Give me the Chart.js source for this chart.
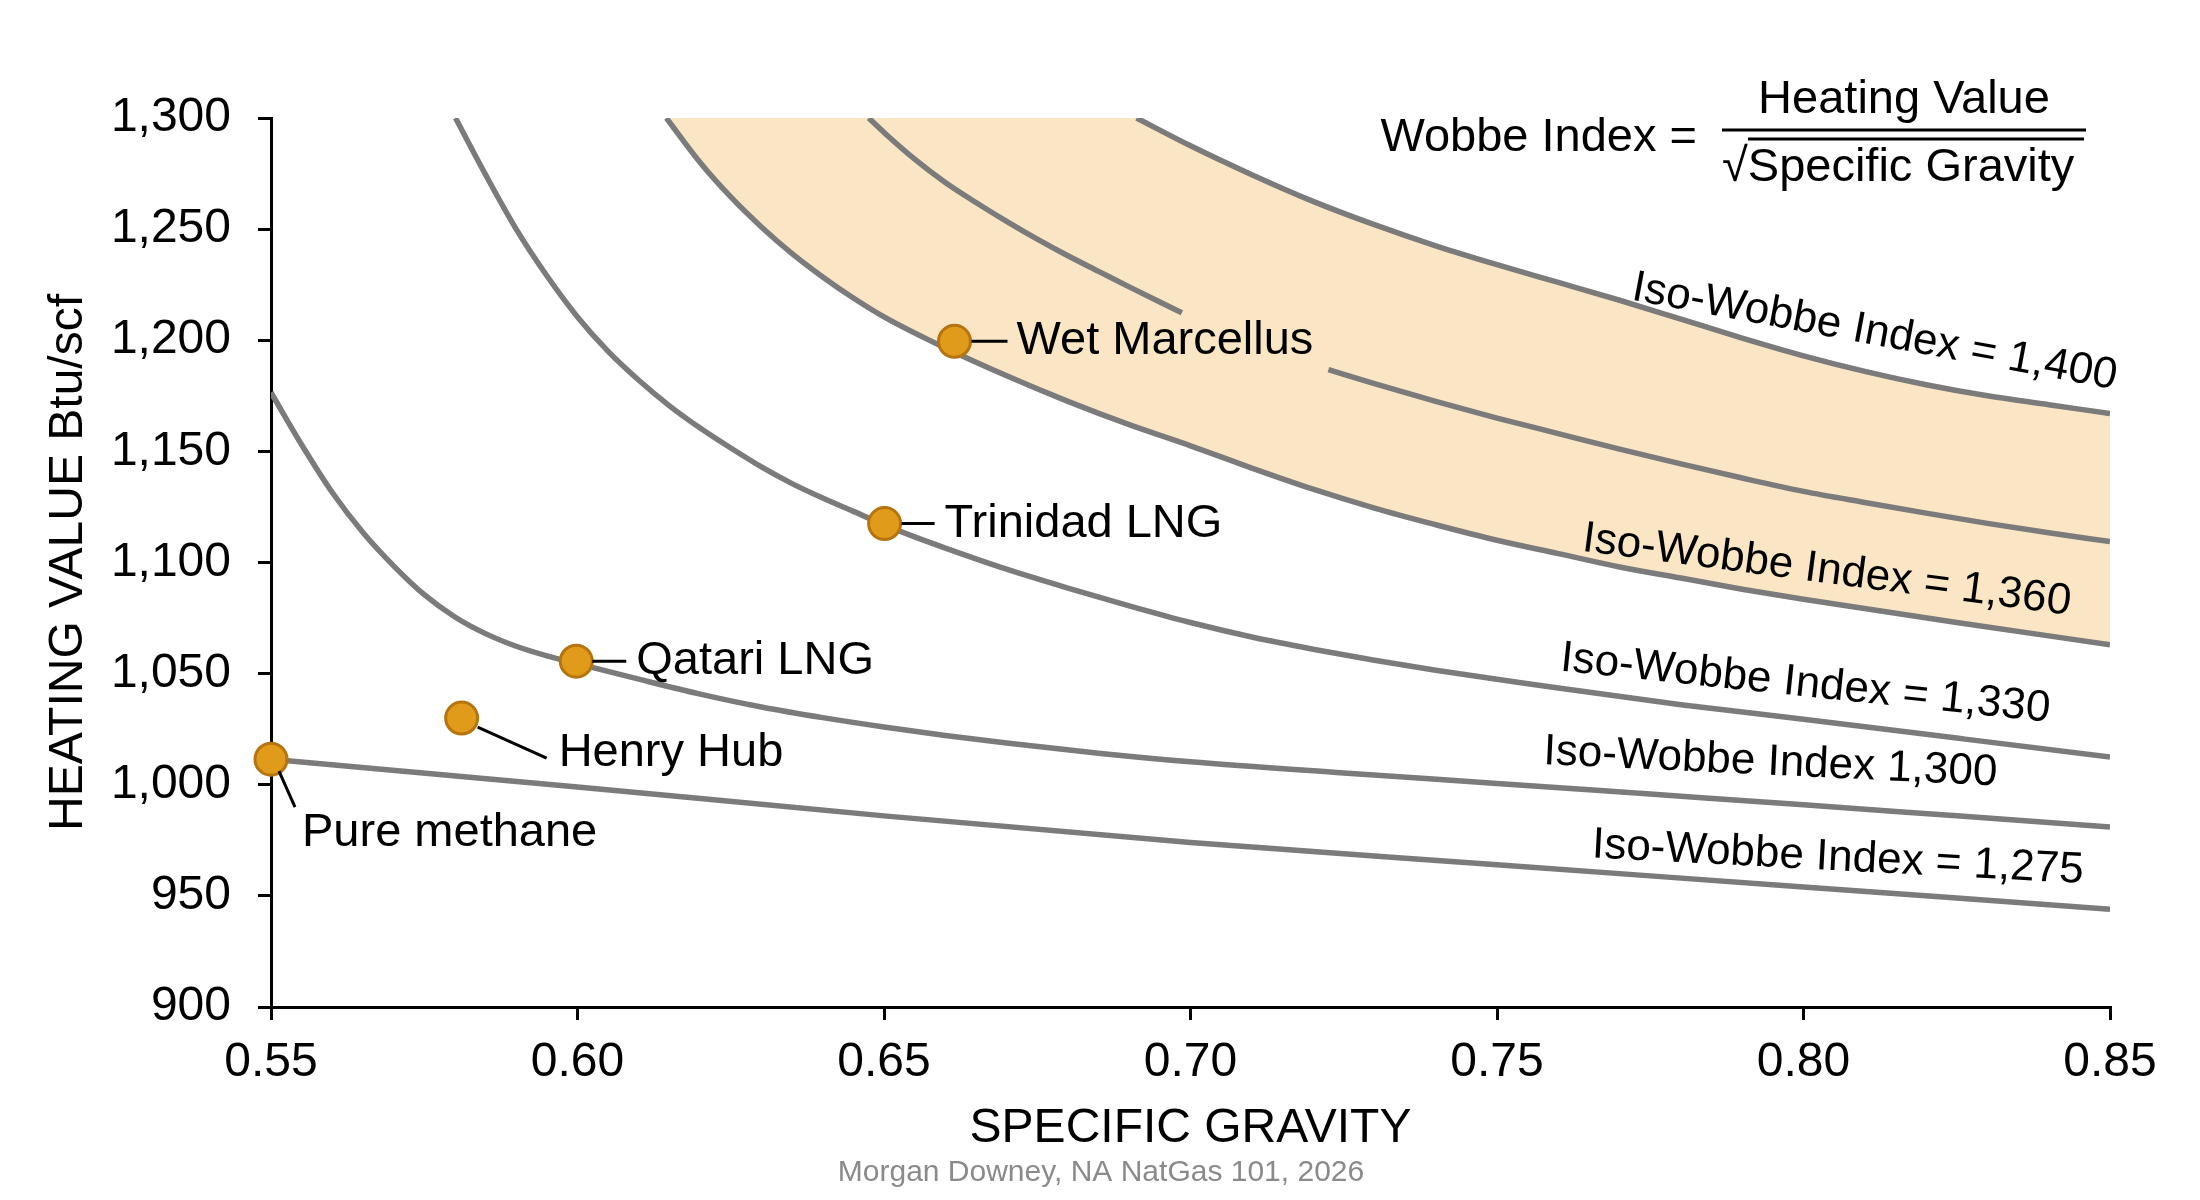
<!DOCTYPE html>
<html>
<head>
<meta charset="utf-8">
<title>Iso-Wobbe Index</title>
<script src="https://cdn.jsdelivr.net/npm/chart.js@4.4.1/dist/chart.umd.min.js"></script>
<style>
    html, body { margin: 0; padding: 0; background: #ffffff; }
    #wrap { width: 2200px; height: 1200px; }
</style>
</head>
<body>
<div id="wrap"><canvas id="chart-wobbe" width="2200" height="1200"></canvas></div>
<script>
// Datos
const sgTicks = [0.55, 0.60, 0.65, 0.70, 0.75, 0.80, 0.85];
const hvTicks = [900, 950, 1000, 1050, 1100, 1150, 1200, 1250, 1300];

const gasNames = ['Pure methane', 'Henry Hub', 'Qatari LNG', 'Trinidad LNG', 'Wet Marcellus'];
const gasSG = [0.55, 0.5811, 0.5998, 0.6501, 0.6615];
const gasHV = [1011.5, 1030, 1055.6, 1117.5, 1199.5];

const sg1275 = [0.55, 0.60, 0.65, 0.70, 0.75, 0.80, 0.85];
const hv1275 = [1011.5, 999, 986, 974, 964, 954, 944];

const sg1300 = [0.55, 0.555, 0.56, 0.565, 0.57, 0.575, 0.58, 0.585, 0.59, 0.595, 0.60, 0.61, 0.62, 0.63, 0.64, 0.65, 0.66, 0.67, 0.685, 0.70, 0.725, 0.75, 0.775, 0.80, 0.825, 0.85];
const hv1300 = [1176.5, 1153, 1131.5, 1113.5, 1098.5, 1085.5, 1075.5, 1068, 1062.3, 1058, 1054.5, 1047.5, 1040.8, 1035, 1030.2, 1026, 1022.2, 1018.8, 1014.2, 1010.3, 1005.3, 1000.6, 995.8, 991, 986, 981];

const sg1330 = [0.5801, 0.585, 0.59, 0.595, 0.60, 0.605, 0.61, 0.615, 0.62, 0.625, 0.63, 0.635, 0.64, 0.645, 0.65, 0.655, 0.66, 0.67, 0.68, 0.69, 0.70, 0.71, 0.72, 0.73, 0.74, 0.75, 0.76, 0.78, 0.80, 0.825, 0.85];
const hv1330 = [1300, 1274.5, 1250, 1229, 1210.5, 1195, 1182, 1170.5, 1160.5, 1151.5, 1143, 1135.5, 1129, 1123, 1117, 1111.5, 1106.5, 1097, 1088.5, 1080.5, 1073, 1066.5, 1061, 1056, 1051.5, 1047.5, 1043.5, 1036, 1029.5, 1021, 1012.5];

const sg1360 = [0.6145, 0.62, 0.625, 0.63, 0.635, 0.64, 0.645, 0.65, 0.66, 0.67, 0.68, 0.69, 0.70, 0.71, 0.72, 0.73, 0.74, 0.75, 0.76, 0.77, 0.78, 0.79, 0.80, 0.825, 0.85];
const hv1360 = [1300, 1280, 1264.5, 1251, 1239, 1228.5, 1219, 1210.5, 1196.5, 1184, 1172.5, 1162, 1152.5, 1142.5, 1133, 1124.5, 1117, 1110, 1104, 1098, 1093, 1088, 1083.5, 1073, 1063];

// linea intermedia, cortada donde va la etiqueta
const sgMid = [0.6475, 0.65, 0.655, 0.66, 0.665, 0.67, 0.675, 0.68, 0.685, 0.69, 0.695, 0.6986, 0.71, 0.7225, 0.73, 0.74, 0.75, 0.76, 0.77, 0.78, 0.79, 0.80, 0.81, 0.82, 0.83, 0.84, 0.85];
const hvMid = [1300, 1293.5, 1281.5, 1271, 1262, 1253.5, 1245.5, 1238, 1231, 1224, 1217.2, 1212.4, null, 1186.8, 1180.5, 1172.5, 1165, 1158, 1151, 1144.4, 1138, 1132, 1127, 1122.2, 1117.6, 1113.4, 1109.4];

const sg1400 = [0.6912, 0.70, 0.71, 0.72, 0.73, 0.74, 0.75, 0.76, 0.77, 0.78, 0.79, 0.80, 0.81, 0.82, 0.83, 0.84, 0.85];
const hv1400 = [1300, 1287.5, 1274.5, 1262.5, 1252, 1242.5, 1234, 1226, 1218, 1209.5, 1201, 1193, 1186, 1180, 1175, 1171, 1167];

const curveLabels = ['Iso-Wobbe Index = 1,400', 'Iso-Wobbe Index = 1,360', 'Iso-Wobbe Index = 1,330', 'Iso-Wobbe Index 1,300', 'Iso-Wobbe Index = 1,275'];

const FONT = "'Liberation Sans', Arial, sans-serif";
const GREY = '#7b7b7b';
const BAND = '#fae6c4';

const pts = (xs, ys) => xs.map((x, i) => ({ x: x, y: ys[i] }));

function curve(xs, ys, fill, bg) {
    return {
        data: pts(xs, ys),
        showLine: true,
        borderColor: GREY,
        borderWidth: 5.5,
        backgroundColor: bg || 'rgba(0,0,0,0)',
        pointRadius: 0,
        pointHoverRadius: 0,
        cubicInterpolationMode: 'monotone',
        spanGaps: false,
        fill: fill || false
    };
}

// Etiquetas, formula y fuente
const annotations = {
    id: 'annotations',
    afterDatasetsDraw(chart) {
        const ctx = chart.ctx;
        const xs = chart.scales.x, ys = chart.scales.y;
        ctx.save();
        ctx.fillStyle = '#000';
        ctx.strokeStyle = '#000';
        ctx.textBaseline = 'middle';

        // etiquetas de los gases
        const offs = [
            { lx1: 8, ly1: 12, lx2: 24, ly2: 48, tx: 31, ty: 74 },
            { lx1: 16, ly1: 9, lx2: 85, ly2: 40, tx: 97, ty: 35 },
            { lx1: 16, ly1: 0, lx2: 50, ly2: 0, tx: 60, ty: 0 },
            { lx1: 17, ly1: 0, lx2: 50, ly2: 0, tx: 60, ty: 0 },
            { lx1: 17, ly1: 0, lx2: 53, ly2: 0, tx: 62, ty: 0 }
        ];
        ctx.font = '47px ' + FONT;
        ctx.textAlign = 'left';
        ctx.lineWidth = 3;
        gasNames.forEach((name, i) => {
            const px = xs.getPixelForValue(gasSG[i]);
            const py = ys.getPixelForValue(gasHV[i]);
            const o = offs[i];
            ctx.beginPath();
            ctx.moveTo(px + o.lx1, py + o.ly1);
            ctx.lineTo(px + o.lx2, py + o.ly2);
            ctx.stroke();
            ctx.fillText(name, px + o.tx, py + o.ty);
        });

        // etiquetas de las curvas
        const pos = [
            { x: 0.8116, y: 1203.5, a: 10.5 },
            { x: 0.8038, y: 1096.3, a: 7.5 },
            { x: 0.8003, y: 1045.3, a: 6 },
            { x: 0.7946, y: 1010, a: 2.7 },
            { x: 0.8056, y: 967, a: 3 }
        ];
        ctx.font = '44px ' + FONT;
        ctx.textAlign = 'center';
        curveLabels.forEach((t, i) => {
            const p = pos[i];
            ctx.save();
            ctx.translate(xs.getPixelForValue(p.x), ys.getPixelForValue(p.y));
            ctx.rotate(p.a * Math.PI / 180);
            ctx.fillText(t, 0, 0);
            ctx.restore();
        });

        // formula
        ctx.font = '47px ' + FONT;
        ctx.textAlign = 'right';
        ctx.fillText('Wobbe Index =', 1697, 138);
        ctx.textAlign = 'center';
        ctx.fillText('Heating Value', 1904, 100);
        ctx.textAlign = 'left';
        ctx.fillText('\u221ASpecific Gravity', 1722, 168);
        ctx.lineWidth = 3;
        ctx.beginPath();
        ctx.moveTo(1722, 130); ctx.lineTo(2086, 130);
        ctx.moveTo(1748, 139); ctx.lineTo(2084, 139);
        ctx.stroke();

        // fuente
        ctx.fillStyle = '#8a8a8a';
        ctx.font = '30px ' + FONT;
        ctx.textAlign = 'center';
        ctx.fillText('Morgan Downey, NA NatGas 101, 2026', 1101, 1173);
        ctx.restore();
    }
};

const ctx = document.getElementById('chart-wobbe').getContext('2d');
new Chart(ctx, {
    type: 'scatter',
    data: {
        datasets: [
            {
                label: 'Gases',
                data: pts(gasSG, gasHV),
                pointRadius: 16,
                pointHoverRadius: 16,
                pointBackgroundColor: '#e09b1a',
                pointBorderColor: '#b5740f',
                pointBorderWidth: 3,
                showLine: false,
                clip: false
            },
            curve(sg1400, hv1400, 'end', '#ffffff'),
            curve(sgMid, hvMid),
            curve(sg1360, hv1360, 'end', BAND),
            curve(sg1330, hv1330),
            curve(sg1300, hv1300),
            curve(sg1275, hv1275)
        ]
    },
    options: {
        responsive: false,
        animation: false,
        events: [],
        layout: { padding: { top: 118, right: 90, left: 0, bottom: 0 } },
        plugins: {
            legend: { display: false },
            tooltip: { enabled: false }
        },
        scales: {
            x: {
                type: 'linear',
                min: 0.55,
                max: 0.85,
                afterBuildTicks: (axis) => { axis.ticks = sgTicks.map(v => ({ value: v })); },
                afterFit: (axis) => { axis.height = 193; },
                grid: { drawOnChartArea: false, drawTicks: true, tickLength: 13, color: '#000', lineWidth: 3 },
                border: { color: '#000', width: 3 },
                ticks: {
                    color: '#000',
                    font: { family: FONT, size: 48 },
                    padding: 14,
                    maxRotation: 0,
                    callback: (v) => Number(v).toFixed(2)
                },
                title: {
                    display: true,
                    text: 'SPECIFIC GRAVITY',
                    color: '#000',
                    font: { family: FONT, size: 48 },
                    padding: { top: 0, bottom: 42 }
                }
            },
            y: {
                type: 'linear',
                min: 900,
                max: 1300,
                afterBuildTicks: (axis) => { axis.ticks = hvTicks.map(v => ({ value: v })); },
                afterFit: (axis) => { axis.width = 271; },
                grid: { drawOnChartArea: false, drawTicks: true, tickLength: 13, color: '#000', lineWidth: 3 },
                border: { color: '#000', width: 3 },
                ticks: {
                    color: '#000',
                    font: { family: FONT, size: 48 },
                    padding: 27,
                    callback: (v) => Number(v).toLocaleString('en-US')
                },
                title: {
                    display: true,
                    text: 'HEATING VALUE Btu/scf',
                    color: '#000',
                    font: { family: FONT, size: 48 },
                    padding: { top: 40, bottom: 0 }
                }
            }
        }
    },
    plugins: [annotations]
});
</script>
</body>
</html>
